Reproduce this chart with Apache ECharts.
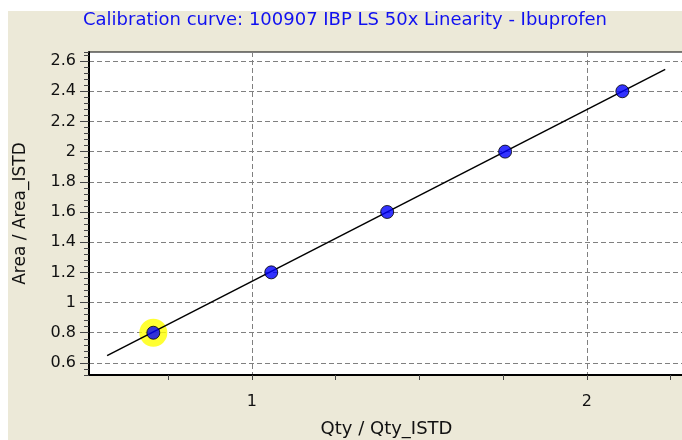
<!DOCTYPE html>
<html>
<head>
<meta charset="utf-8">
<script src="https://cdn.jsdelivr.net/npm/echarts@6/dist/echarts.min.js"></script>
<style>
  body { margin: 0; background: #fff; }
  #wrap { position: relative; width: 682px; height: 440px; background: #fff; overflow: hidden; }
  #chart { position: absolute; left: 8px; top: 11px; width: 674px; height: 429px; background: #ece9d8; }
</style>
</head>
<body>
<div id="wrap"><div id="chart"></div></div>
<script>
// calibration points (Qty/Qty_ISTD, Area/Area_ISTD)
const qtyRatio = [0.706, 1.058, 1.404, 1.756, 2.106];
const areaRatio = [0.80, 1.20, 1.60, 2.00, 2.40];
// selected point (yellow halo)
const selectedPoint = [0.706, 0.80];
// regression line ends
const fitQty = [0.568, 2.234];
const fitArea = [0.648, 2.545];

const xTicks = [0.75, 1, 1.25, 1.5, 1.75, 2, 2.25];
const xLabels = [1, 2];
const yLabels = [0.6, 0.8, 1, 1.2, 1.4, 1.6, 1.8, 2, 2.2, 2.4, 2.6];

const chart = echarts.init(document.getElementById("chart"));

const font = "DejaVu Sans";
const gridDash = { color: "#808080", width: 1, type: [5, 3] };

const option = {
  animation: false,
  title: {
    text: "Calibration curve: 100907 IBP LS 50x Linearity - Ibuprofen",
    left: "center",
    top: -5,
    textStyle: { fontFamily: font, fontSize: 18, fontWeight: "normal", color: "#1010f0" },
  },
  grid: {
    left: 81,
    top: 41,
    right: -2,
    bottom: 65,
    containLabel: false,
    outerBoundsMode: "none",
    show: true,
    backgroundColor: "#fff",
    borderColor: "#000",
    borderWidth: 1,
  },
  xAxis: [
    {
      type: "value",
      min: 0.514,
      max: 2.29,
      name: "Qty / Qty_ISTD",
      nameLocation: "middle",
      nameGap: 45,
      nameTextStyle: { fontFamily: font, fontSize: 18, color: "#111" },
      axisLine: { lineStyle: { color: "#000", width: 2 } },
      axisTick: { customValues: xTicks, length: 5, lineStyle: { color: "#444" } },
      axisLabel: { customValues: xLabels, margin: 19, fontFamily: font, fontSize: 16, color: "#111" },
      splitLine: { show: false },
    },
    {
      type: "value",
      min: 0.514,
      max: 2.29,
      axisLine: { show: false },
      axisTick: { show: false, customValues: xLabels },
      axisLabel: { show: false, customValues: xLabels },
      splitLine: { show: true, lineStyle: gridDash },
    },
  ],
  yAxis: [
    {
      type: "value",
      position: "left",
      min: 0.52,
      max: 2.66,
      name: "Area / Area_ISTD",
      nameLocation: "middle",
      nameGap: 60,
      nameTextStyle: { fontFamily: font, fontSize: 17, color: "#111" },
      axisLine: { show: true, lineStyle: { color: "#000", width: 2 } },
      axisTick: { show: true, customValues: yLabels, length: 9, lineStyle: { color: "#444" } },
      axisLabel: { customValues: yLabels, margin: 13, fontFamily: font, fontSize: 16, color: "#111" },
      splitLine: { show: true, lineStyle: gridDash },
    },
    {
      type: "value",
      position: "left",
      min: 0.52,
      max: 2.66,
      interval: 0.04,
      axisLine: { show: false },
      axisTick: { show: true, length: 5, lineStyle: { color: "#444" } },
      axisLabel: { show: false },
      splitLine: { show: false },
    },
  ],
  series: [
    {
      type: "scatter",
      silent: true,
      symbolSize: 28,
      itemStyle: { color: "#ffff00" },
      data: [selectedPoint],
      z: 1,
    },
    {
      type: "line",
      silent: true,
      showSymbol: false,
      lineStyle: { color: "#000", width: 1.5 },
      data: fitQty.map((q, i) => [q, fitArea[i]]),
      z: 2,
    },
    {
      type: "scatter",
      symbol: "circle",
      symbolSize: 13,
      itemStyle: { color: "#0000ff", borderColor: "#000", borderWidth: 1 },
      data: qtyRatio.map((q, i) => [q, areaRatio[i]]),
      z: 3,
    },
  ],
};
chart.setOption(option);
</script>
</body>
</html>
